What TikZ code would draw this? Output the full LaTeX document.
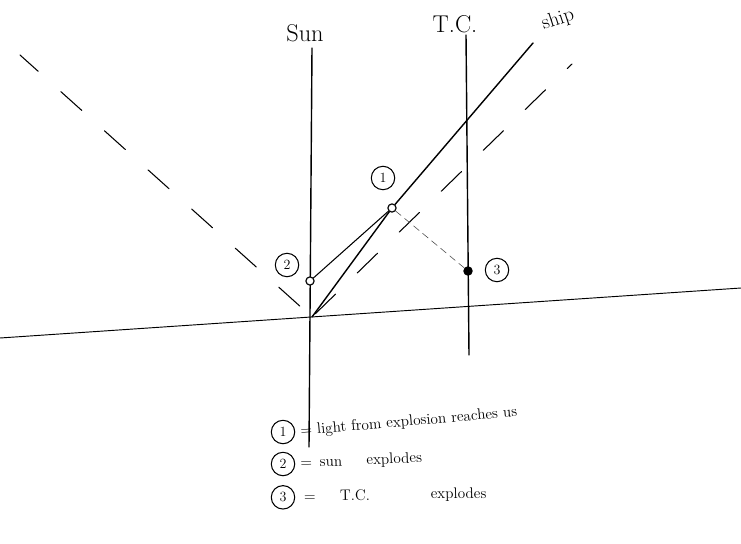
\documentclass[tikz,border=0pt]{standalone}
\usetikzlibrary{positioning}

\begin{document}
\begin{tikzpicture}[x=0.03cm, y=-0.03cm, line cap=round,
    worldline/.style={line width=1.2pt},
    ray/.style={line width=0.9pt, dash pattern=on 24pt off 26pt},
    signal/.style={line width=0.5pt, dash pattern=on 6pt off 4pt, black!70},
    event/.style={circle, draw, line width=1pt, inner sep=0pt, minimum size=7pt, fill=white},
    tag/.style={circle, draw, line width=0.9pt, inner sep=0.5pt, minimum size=20pt, font=\large},
    note/.style={anchor=west, font=\fontsize{13}{15}\selectfont}]
    \useasboundingbox (0,0) rectangle (741,544);

    % Ends of the world lines
    \coordinate (sunTop) at (312,48);
    \coordinate (sunBot) at (309,447);
    \coordinate (tcTop) at (466,35);
    \coordinate (tcBot) at (469,355);
    \coordinate (shipTop) at (533,43);
    \coordinate (nowL) at (0,338);
    \coordinate (nowR) at (741,288);
    \coordinate (o) at (312,317);

    % Light cone from the origin
    \coordinate (coneL) at (20,55);
    \coordinate (coneR) at (572,64);

    % Simultaneity line and world lines
    \draw[line width=0.8pt] (nowL) -- (nowR);
    \draw[worldline] (sunTop) -- (sunBot);
    \draw[worldline] (tcTop) -- (tcBot);
    \draw[ray, shorten <=14pt] (o) -- (coneL);
    \draw[ray, shorten <=4pt] (o) -- (coneR);

    % Events
    \node[event] (ev2) at (310,281) {};
    \node[event] (ev1) at (392,208) {};
    \node[event, fill=black] (ev3) at (468,271) {};

    \draw[worldline] (o) -- (ev1);
    \draw[worldline] (ev1) -- (shipTop);
    \draw[line width=0.9pt] (ev2) -- (ev1);
    \draw[signal] (ev1) -- (ev3);

    % Labels of the lines
    \node[font=\huge] (sunLbl) at (305,33) {Sun};
    \node[font=\huge] (tcLbl) at (455,24) {T.C.};
    \node[font=\LARGE, rotate=18] (shipLbl) at (558,20) {ship};

    % Event tags
    \node[tag] (tag1) at (383,178) {1};
    \node[tag] (tag2) at (287,265) {2};
    \node[tag] (tag3) at (497,270) {3};

    % Key
    \node[tag] (key1) at (283,432) {1};
    \node[tag, on grid, below=0.96cm of key1] (key2) {2};
    \node[tag, on grid, below=1cm of key2] (key3) {3};
    \node[note, right=1pt of key1, rotate=5] (note1) {= light from explosion reaches us};
    \node[note, right=1pt of key2, rotate=2.5] (note2) {=\enspace sun\hspace{1.6em}explodes};
    \node[note, right=4pt of key3, rotate=1] (note3) {=\hspace{1.6em}T.C.\hspace{4em}explodes};
\end{tikzpicture}
\end{document}
